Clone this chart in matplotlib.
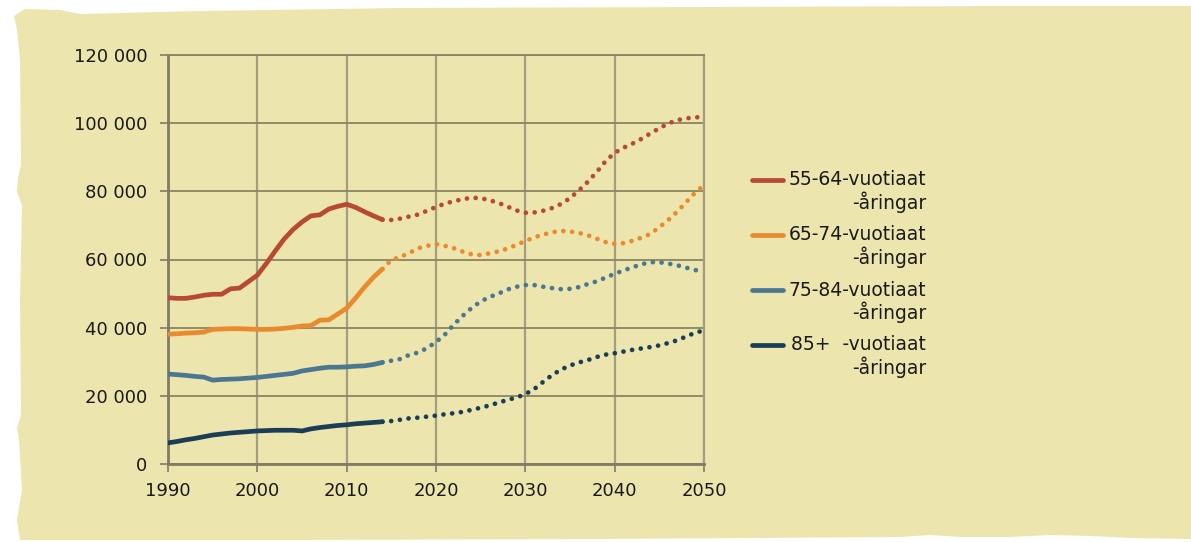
import matplotlib
matplotlib.use("Agg")
import matplotlib.pyplot as plt
from matplotlib.patches import Polygon
from matplotlib.lines import Line2D
from matplotlib.ticker import FuncFormatter

# --- data ---
years_hist = list(range(1990, 2015))
years_proj = list(range(2014, 2051))

age55_hist = [48800, 48600, 48600, 49000, 49500, 49800, 49800, 51400, 51600, 53500,
              55400, 58800, 62500, 66000, 68800, 71000, 72800, 73100, 74800, 75600,
              76200, 75300, 74000, 72800, 71700]
age55_proj = [71700, 71600, 72000, 72600, 73200, 74300, 75400, 76400, 77100, 77700,
              78100, 78000, 77400, 76600, 75500, 74400, 73700, 73800, 74300, 75100,
              76300, 78000, 80300, 82800, 85700, 88900, 91300, 92800, 94000, 95400,
              97000, 98500, 99900, 100900, 101400, 101700, 101800]

age65_hist = [38100, 38200, 38400, 38500, 38700, 39500, 39600, 39700, 39700, 39600,
              39500, 39500, 39600, 39800, 40100, 40500, 40600, 42200, 42300, 44000,
              45700, 48700, 51900, 54800, 57200]
age65_proj = [57200, 59900, 60700, 61900, 63300, 64000, 64500, 64000, 63300, 62300,
              61500, 61300, 61800, 62400, 63200, 64300, 65400, 66500, 67300, 68000,
              68400, 68200, 67800, 67100, 66100, 65100, 64600, 64800, 65500, 66400,
              67500, 69500, 71600, 74000, 76800, 79600, 81800]

age75_hist = [26400, 26200, 26000, 25700, 25500, 24600, 24800, 24900, 25000, 25200,
              25400, 25700, 26000, 26300, 26600, 27300, 27700, 28100, 28400, 28400,
              28500, 28700, 28800, 29200, 29800]
age75_proj = [29800, 30300, 30800, 32000, 32700, 34000, 35800, 38000, 40900, 43500,
              45800, 47700, 49000, 50000, 51200, 52000, 52500, 52500, 52000, 51600,
              51300, 51400, 51900, 52800, 53600, 54700, 55800, 56800, 57700, 58600,
              59200, 59200, 58800, 58300, 57600, 56900, 56500]

age85_hist = [6200, 6600, 7100, 7500, 8000, 8500, 8800, 9100, 9300, 9500,
              9700, 9800, 9900, 9900, 9900, 9700, 10300, 10700, 11000, 11300,
              11500, 11800, 12000, 12200, 12400]
age85_proj = [12400, 12600, 13000, 13400, 13600, 13900, 14200, 14600, 14900, 15300,
              15900, 16500, 17200, 18000, 18800, 19500, 20500, 22000, 24100, 26100,
              27700, 28900, 29800, 30500, 31400, 32100, 32500, 33000, 33500, 33900,
              34300, 34800, 35500, 36300, 37400, 38500, 39200]

labels_first = ["55-64-vuotiaat", "65-74-vuotiaat", "75-84-vuotiaat", "85+  -vuotiaat"]
label_second = "-åringar"
colors = ["#b84a33", "#e98a2f", "#4b7791", "#1c3d57"]

BG = "#ede5ae"
W, H = 1191, 542

fig = plt.figure(figsize=(W / 100, H / 100), dpi=100, facecolor="white")

# torn paper background
edge = [(14, 16), (25, 9), (60, 10), (80, 14), (200, 11), (400, 8), (700, 7),
        (1000, 6), (1191, 6), (1191, 539), (1130, 538), (1090, 536), (1050, 535),
        (1010, 537), (960, 537), (930, 535), (900, 537), (600, 539), (300, 540),
        (20, 540), (17, 520), (22, 490), (19, 440), (17, 428), (21, 415), (20, 300),
        (22, 205), (17, 192), (18, 178), (21, 165), (20, 60), (17, 30)]
poly = Polygon([(x / W, 1 - y / H) for x, y in edge], closed=True,
               transform=fig.transFigure, facecolor=BG, edgecolor="none", zorder=-1)
fig.patches.append(poly)

ax = fig.add_axes([168 / W, 1 - 464 / H, 536 / W, 409 / H])
ax.set_facecolor("none")

hist = [age55_hist, age65_hist, age75_hist, age85_hist]
proj = [age55_proj, age65_proj, age75_proj, age85_proj]
for h, p, c in zip(hist, proj, colors):
    ax.plot(years_hist, h, color=c, lw=3.4, solid_capstyle="round", zorder=3)
    ax.plot(years_proj, p, color=c, lw=3.4, linestyle=(0, (0.01, 1.85)),
            dash_capstyle="round", zorder=3)

ax.set_xlim(1990, 2050)
ax.set_ylim(0, 120000)
ax.set_xticks(range(1990, 2051, 10))
ax.set_yticks(range(0, 120001, 20000))
ax.yaxis.set_major_formatter(FuncFormatter(lambda v, pos: f"{int(v):,}".replace(",", " ")))

ax.grid(axis="x", color="#a29e80", lw=1.6, zorder=1)
ax.grid(axis="y", color="#8a8563", lw=1.3, zorder=1)
for s in ["left", "bottom"]:
    ax.spines[s].set_color("#807c66")
    ax.spines[s].set_linewidth(2)
ax.spines["top"].set_color("#8a8563")
ax.spines["top"].set_linewidth(1.3)
ax.spines["right"].set_color("#a29e80")
ax.spines["right"].set_linewidth(1.6)
ax.tick_params(axis="both", length=6, width=1.2, color="#807c66",
               labelsize=13, labelcolor="#1a1a1a")
ax.tick_params(axis="y", pad=9)
ax.tick_params(axis="x", pad=7)

# legend, drawn by hand so the line sits next to the first text row
leg_y = [180, 235, 290, 345]
for yy, c, lab in zip(leg_y, colors, labels_first):
    fig.add_artist(Line2D([752 / W, 783 / W], [1 - yy / H, 1 - yy / H], color=c, lw=3.4,
                          solid_capstyle="round", transform=fig.transFigure))
    fig.text(926 / W, 1 - yy / H, lab, ha="right", va="center", fontsize=13.5, color="#1a1a1a")
    fig.text(926 / W, 1 - (yy + 22) / H, label_second, ha="right", va="center",
             fontsize=13.5, color="#1a1a1a")

fig.savefig("out.png", dpi=100, facecolor="white")
